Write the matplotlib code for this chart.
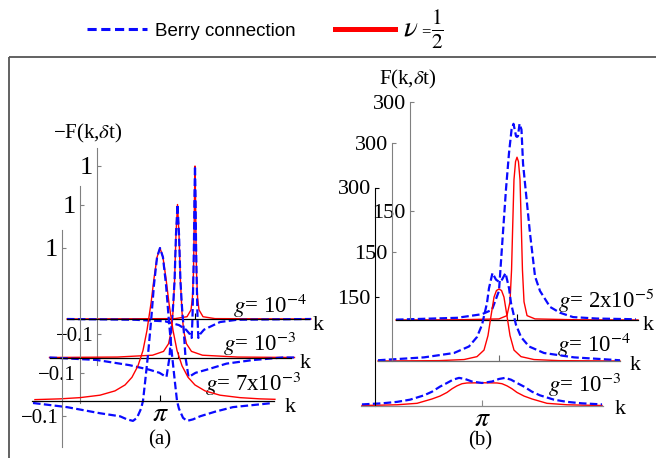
import numpy as np
import matplotlib.pyplot as plt
from matplotlib import font_manager
from matplotlib.lines import Line2D

plt.rcParams['mathtext.fontset'] = 'stix'
plt.rcParams['font.family'] = ['Liberation Serif', 'DejaVu Serif']

# k is stored in units of pi, values in the units of each vertical axis

# (a) -F(k, dt), g = 1e-4 (back), 1e-3, 7e-3 (front)
a1_red_k = [0.0, 0.844, 0.9375, 0.969, 0.980, 0.988, 0.992, 0.996, 1.0, 1.004, 1.008, 1.012, 1.020, 1.031, 1.0625, 1.156, 1.906]
a1_red = [0.0, 0.0025, 0.015, 0.06, 0.14, 0.3, 0.5, 0.8, 1.0, 0.8, 0.5, 0.3, 0.14, 0.06, 0.015, 0.0025, 0.0]
a1_blue_k = [0.0, 0.531, 0.766, 0.875, 0.930, 0.961, 0.974, 0.980, 0.988, 0.992, 0.996, 1.0, 1.004, 1.008, 1.012, 1.020, 1.026, 1.039, 1.070, 1.094, 1.195, 1.328, 1.906]
a1_blue = [0.0, -0.005, -0.015, -0.04, -0.07, -0.10, -0.124, 0.0, 0.3, 0.5, 0.8, 1.0, 0.8, 0.5, 0.3, 0.0, -0.124, -0.10, -0.07, -0.06, -0.02, -0.005, 0.0]

a2_red_k = [0.0, 0.531, 0.805, 0.891, 0.930, 0.953, 0.965, 0.977, 0.988, 1.0, 1.012, 1.023, 1.035, 1.047, 1.070, 1.109, 1.195, 1.469, 1.914]
a2_red = [0.0, 0.003, 0.015, 0.04, 0.09, 0.18, 0.3, 0.5, 0.8, 1.0, 0.8, 0.5, 0.3, 0.18, 0.09, 0.04, 0.015, 0.003, 0.0]
a2_blue_k = [0.0, 0.367, 0.625, 0.781, 0.859, 0.898, 0.914, 0.926, 0.9375, 0.953, 0.965, 0.977, 0.988, 1.0, 1.012, 1.023, 1.035, 1.047, 1.0625, 1.074, 1.086, 1.102, 1.141, 1.227, 1.383, 1.586, 1.820, 1.914]
a2_blue = [0.0, -0.016, -0.05, -0.08, -0.10, -0.12, -0.127, -0.06, 0.0, 0.2, 0.33, 0.5, 0.8, 1.0, 0.8, 0.5, 0.33, 0.2, 0.0, -0.06, -0.127, -0.12, -0.10, -0.08, -0.04, -0.017, 0.0, 0.0]

a3_red_k = [0.023, 0.219, 0.375, 0.531, 0.648, 0.727, 0.781, 0.828, 0.867, 0.898, 0.930, 0.953, 0.977, 1.0, 1.023, 1.047, 1.070, 1.102, 1.133, 1.172, 1.219, 1.273, 1.352, 1.469, 1.625, 1.781, 1.898]
a3_red = [0.009, 0.014, 0.022, 0.038, 0.066, 0.105, 0.155, 0.23, 0.33, 0.46, 0.64, 0.80, 0.94, 1.0, 0.94, 0.80, 0.64, 0.46, 0.33, 0.23, 0.155, 0.105, 0.066, 0.038, 0.022, 0.014, 0.011]
a3_blue_k = [0.008, 0.273, 0.531, 0.688, 0.742, 0.789, 0.820, 0.852, 0.867, 0.883, 0.906, 0.930, 0.953, 0.977, 1.0, 1.023, 1.047, 1.070, 1.094, 1.117, 1.133, 1.148, 1.180, 1.211, 1.258, 1.313, 1.430, 1.570, 1.883]
a3_blue = [-0.013, -0.04, -0.08, -0.10, -0.12, -0.13, -0.11, -0.05, 0.0, 0.12, 0.30, 0.52, 0.76, 0.94, 1.0, 0.94, 0.76, 0.52, 0.30, 0.12, 0.0, -0.05, -0.11, -0.13, -0.12, -0.10, -0.07, -0.04, -0.013]

# (b) F(k, dt), g = 2e-5 (back), 1e-4, 1e-3 (front)
b1_red_k = [0.0, 0.504, 0.851, 0.917, 0.942, 0.955, 0.963, 0.975, 0.988, 1.0, 1.012, 1.025, 1.037, 1.045, 1.058, 1.083, 1.149, 1.496, 2.0]
b1_red = [0.0, 0.3, 1.5, 6, 25, 69, 120, 193, 218, 224, 218, 193, 120, 69, 25, 6, 1.5, 0.3, 0.0]
b1_blue_k = [0.0, 0.504, 0.711, 0.793, 0.851, 0.884, 0.909, 0.934, 0.955, 0.971, 0.992, 1.0, 1.008, 1.021, 1.037, 1.050, 1.083, 1.107, 1.149, 1.190, 1.273, 1.355, 1.463, 1.661, 1.983]
b1_blue = [0.5, 3, 8, 14, 40, 120, 180, 230, 262, 270, 253, 252, 253, 270, 262, 215, 160, 120, 60, 40, 18, 10, 4, 2, 1]

b2_red_k = [0.0, 0.504, 0.711, 0.818, 0.876, 0.909, 0.934, 0.959, 0.979, 1.0, 1.021, 1.041, 1.066, 1.091, 1.124, 1.182, 1.289, 1.496, 2.0]
b2_red = [0.0, 0.5, 2, 6, 15, 35, 62, 88, 97, 99, 97, 88, 62, 35, 15, 6, 2, 0.5, 0.0]
b2_blue_k = [0.0, 0.380, 0.628, 0.752, 0.818, 0.860, 0.901, 0.917, 0.946, 0.975, 1.0, 1.025, 1.054, 1.083, 1.099, 1.140, 1.182, 1.248, 1.372, 1.620, 2.0]
b2_blue = [1, 5, 11, 20, 33, 50, 80, 100, 121, 112, 109, 112, 121, 100, 80, 50, 33, 20, 11, 5, 1]

b3_red_k = [0.008, 0.174, 0.298, 0.463, 0.587, 0.653, 0.711, 0.752, 0.793, 0.835, 0.876, 1.0, 1.124, 1.165, 1.207, 1.248, 1.289, 1.347, 1.413, 1.537, 1.702, 1.826, 1.992]
b3_red = [0.0, 0.5, 1.0, 3.0, 9.0, 13.0, 18.0, 23.0, 27.0, 30.0, 31.0, 31.3, 31.0, 30.0, 27.0, 23.0, 18.0, 13.0, 9.0, 3.0, 1.0, 0.5, 0.0]
b3_blue_k = [0.008, 0.174, 0.298, 0.405, 0.463, 0.521, 0.587, 0.653, 0.711, 0.760, 0.810, 0.860, 0.917, 1.0, 1.083, 1.140, 1.190, 1.240, 1.289, 1.347, 1.413, 1.479, 1.537, 1.595, 1.702, 1.826, 1.992]
b3_blue = [1.5, 3, 5, 8, 11, 14, 19, 26, 31, 35.5, 38, 36.5, 33, 31, 33, 36.5, 38, 35.5, 31, 26, 19, 14, 11, 8, 5, 3, 1.5]

a_labels = [r'$g$= 10$^{-4}$', r'$g$= 10$^{-3}$', r'$g$= 7x10$^{-3}$']
b_labels = [r'$g$= 2x10$^{-5}$', r'$g$= 10$^{-4}$', r'$g$= 10$^{-3}$']

BLUE = '#0a0aff'
RED = '#ff0000'
GRAY = '#808080'

W, H = 656, 458
fig = plt.figure(figsize=(W / 100, H / 100), dpi=100)

# overlay in pixel units for the frame and free text
ov = fig.add_axes([0, 0, 1, 1])
ov.set_xlim(0, W)
ov.set_ylim(H, 0)
ov.axis('off')
ov.plot([9, W], [57, 57], color='#555555', lw=1.3, solid_capstyle='butt')
ov.plot([9, 9], [57, H], color='#555555', lw=1.3, solid_capstyle='butt')


def layer(x_pi, y0, px_pi, px_unit):
    # one stacked plot; its origin (k=pi, value 0) sits at pixel (x_pi, y0)
    ax = fig.add_axes([0, 0, 1, 1])
    ax.patch.set_visible(False)
    ax.set_xlim(np.pi * (1 - x_pi / px_pi), np.pi * (1 + (W - x_pi) / px_pi))
    ax.set_ylim((y0 - H) / px_unit, y0 / px_unit)
    ax.spines['top'].set_visible(False)
    ax.spines['right'].set_visible(False)
    return ax


def axes_lines(ax, k_axis, ylo, yhi, kmax, ticks, ticklabels, sizes,
               axis_color, base_color, pi_label):
    ax.spines['left'].set_position(('data', k_axis * np.pi))
    ax.spines['left'].set_bounds(ylo, yhi)
    ax.spines['left'].set_color(axis_color)
    ax.spines['left'].set_linewidth(0.8)
    ax.spines['bottom'].set_position(('data', 0))
    ax.spines['bottom'].set_bounds(0, kmax * np.pi)
    ax.spines['bottom'].set_color(base_color)
    ax.spines['bottom'].set_linewidth(0.9)
    ax.set_yticks(ticks, ticklabels)
    for lab, s in zip(ax.get_yticklabels(), sizes):
        lab.set_fontsize(s)
    ax.set_xticks([np.pi], [r'$\pi$' if pi_label else ''])
    ax.tick_params(axis='y', direction='in', length=3, width=0.8,
                   color=axis_color, pad=3)
    ax.tick_params(axis='x', direction='in', length=4, width=0.8,
                   color=base_color, pad=1, labelsize=20)


def curves(ax, rk, rv, bk, bv):
    ax.plot(np.array(rk) * np.pi, rv, color=RED, lw=1.0)
    ax.plot(np.array(bk) * np.pi, bv, color=BLUE, lw=1.6, dashes=(3.4, 1.5))


# panel (a)
a_pos = [(195, 319), (177.5, 357.5), (160, 401)]
a_data = [(a1_red_k, a1_red, a1_blue_k, a1_blue),
          (a2_red_k, a2_red, a2_blue_k, a2_blue),
          (a3_red_k, a3_red, a3_blue_k, a3_blue)]
for i, ((xp, y0), d) in enumerate(zip(a_pos, a_data)):
    ax = layer(xp, y0, 128, 153)
    axes_lines(ax, 0.238, -0.3, 1.12, 1.89, [-0.1, 1], ['\u22120.1', '1'],
               [15, 19], GRAY, 'black', i == 2)
    curves(ax, *d)

# panel (b)
b_pos = [(517, 320), (499, 361), (482, 405.5)]
b_data = [(b1_red_k, b1_red, b1_blue_k, b1_blue),
          (b2_red_k, b2_red, b2_blue_k, b2_blue),
          (b3_red_k, b3_red, b3_blue_k, b3_blue)]
b_axis = [GRAY, GRAY, 'black']
b_base = ['black', '#6e6e6e', '#8a8a8a']
for i, ((xp, y0), d) in enumerate(zip(b_pos, b_data)):
    ax = layer(xp, y0, 121, 109 / 150)
    axes_lines(ax, 0.116, 0, 300, 2.0, [150, 300], ['150', '300'],
               [16, 16], b_axis[i], b_base[i], i == 2)
    curves(ax, *d)

# labels of the stacked plots
for (x, y), s in zip([(233, 306), (223, 344), (205, 384)], a_labels):
    ov.text(x, y, s, fontsize=16.5, ha='left', va='center')
for (x, y), s in zip([(558, 301), (557, 345), (548, 385)], b_labels):
    ov.text(x, y, s, fontsize=16.5, ha='left', va='center')
for x, y in [(318, 325), (305, 364), (290, 408), (648, 326), (635, 366), (620, 409)]:
    ov.text(x, y, 'k', fontsize=16, ha='center', va='center')

ov.text(88, 133, '\u2212F(k,$\\delta$t)', fontsize=15, ha='center', va='center')
ov.text(408, 79, 'F(k,$\\delta$t)', fontsize=15, ha='center', va='center')
ov.text(160, 440, '(a)', fontsize=15, ha='center', va='center')
ov.text(480, 441, '(b)', fontsize=15, ha='center', va='center')

# legend
installed = {f.name for f in font_manager.fontManager.ttflist}
if 'Liberation Sans Narrow' in installed:
    leg_family, leg_size = 'Liberation Sans Narrow', 16
else:
    leg_family, leg_size = 'Liberation Sans', 13.5
handles = [Line2D([], [], color=BLUE, lw=2.2, dashes=(3, 1.5)),
           Line2D([], [], color=RED, lw=3.6)]
leg = fig.legend(handles, ['Berry connection', r'$\nu$'], loc='center left',
                 bbox_to_anchor=(87 / W, 1 - 29 / H), ncol=2, frameon=False,
                 borderpad=0, borderaxespad=0, handlelength=3.2,
                 handletextpad=0.45, columnspacing=2.05, fontsize=leg_size)
leg.get_texts()[0].set_family(leg_family)
leg.get_texts()[1].set_fontsize(21)
ov.text(421, 32, '=', fontsize=12, ha='left', va='center')
ov.text(431, 30, r'$\frac{1}{2}$', fontsize=22, ha='left', va='center')

fig.savefig('out.png', dpi=100)
